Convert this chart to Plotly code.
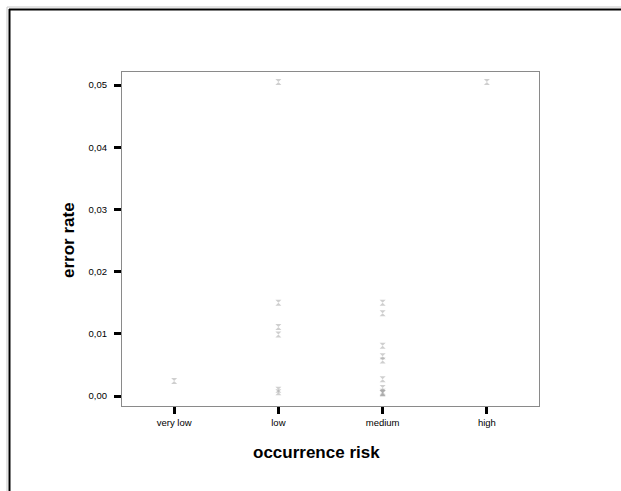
import plotly.graph_objects as go

# occurrence-risk categories and tick labels
categories = ["very low", "low", "medium", "high"]
y_ticks = [0.00, 0.01, 0.02, 0.03, 0.04, 0.05]
y_tick_labels = ["0,00", "0,01", "0,02", "0,03", "0,04", "0,05"]

# observed error rates per category
rate_very_low = [0.0024]
rate_low = [0.0505, 0.0150, 0.0111, 0.0099, 0.0010, 0.0006]
rate_medium = [0.0150, 0.0133, 0.0081, 0.0064, 0.0057, 0.0027,
               0.0013, 0.0007, 0.0005, 0.0005, 0.0004]
rate_high = [0.0505]

groups = [rate_very_low, rate_low, rate_medium, rate_high]
xs, ys = [], []
for cat, vals in zip(categories, groups):
    xs += [cat] * len(vals)
    ys += vals

W, H = 621, 491
L, R, T, B = 122, 539, 72, 406  # plot area in pixels


def px(x):
    return (x - L) / (R - L)


def py(y):
    return (B - y) / (B - T)


fig = go.Figure()
fig.add_trace(go.Scatter(
    x=xs, y=ys, mode="markers",
    marker=dict(symbol="hourglass", size=6, color="#a8a8a8", opacity=0.55,
                line=dict(width=0)),
    hoverinfo="x+y", showlegend=False,
))

axis_font = dict(family="Liberation Sans, Arial, sans-serif", size=9.5, color="#000")
title_font = dict(family="Liberation Sans, Arial, sans-serif", size=17, color="#000")
fig.update_layout(
    width=W, height=H,
    margin=dict(l=L, r=W - R, t=T, b=H - B, autoexpand=False),
    paper_bgcolor="white", plot_bgcolor="white",
    xaxis=dict(
        type="category", categoryorder="array", categoryarray=categories,
        range=[-0.5, 3.5], showgrid=False, zeroline=False,
        showline=True, linecolor="#8a8a8a", linewidth=1.2, mirror=True,
        ticks="outside", ticklen=7, tickwidth=3, tickcolor="#000",
        tickfont=axis_font,
    ),
    yaxis=dict(
        range=[-0.0016, 0.0521], showgrid=False, zeroline=False,
        tickvals=y_ticks, ticktext=y_tick_labels,
        showline=True, linecolor="#8a8a8a", linewidth=1.2, mirror=True,
        ticks="outside", ticklen=7, tickwidth=3, tickcolor="#000",
        tickfont=axis_font, ticklabelstandoff=5,
    ),
    annotations=[
        dict(text="<b>occurrence risk</b>", xref="paper", yref="paper",
             x=px(316), y=py(452), showarrow=False, xanchor="center",
             yanchor="middle", font=title_font),
        dict(text="<b>error rate</b>", xref="paper", yref="paper",
             x=px(68), y=py(240), showarrow=False, textangle=-90,
             xanchor="center", yanchor="middle", font=title_font),
    ],
    shapes=[
        # outer frame (top and left edges)
        dict(type="line", xref="paper", yref="paper",
             x0=px(7), y0=py(7), x1=px(W + 5), y1=py(7),
             line=dict(color="#c8c8c8", width=1)),
        dict(type="line", xref="paper", yref="paper",
             x0=px(7), y0=py(7), x1=px(7), y1=py(H + 5),
             line=dict(color="#c8c8c8", width=1)),
        dict(type="line", xref="paper", yref="paper",
             x0=px(9), y0=py(9.5), x1=px(W + 5), y1=py(9.5),
             line=dict(color="#000", width=2)),
        dict(type="line", xref="paper", yref="paper",
             x0=px(9.5), y0=py(9), x1=px(9.5), y1=py(H + 5),
             line=dict(color="#000", width=2)),
    ],
)

fig.write_html("out.html")
